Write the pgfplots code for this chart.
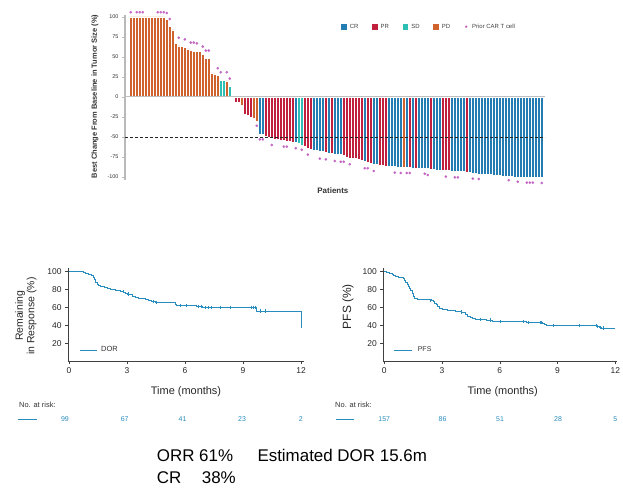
\documentclass[border=0pt]{standalone}
\usepackage{fontspec}
\setmainfont{Liberation Sans}
\usepackage{pgfplots}
\pgfplotsset{compat=1.18}
\definecolor{cCR}{RGB}{35,125,178}
\definecolor{cPR}{RGB}{192,32,62}
\definecolor{cSD}{RGB}{45,190,180}
\definecolor{cPD}{RGB}{208,98,45}
\definecolor{cMark}{RGB}{195,100,195}
\definecolor{km}{RGB}{40,140,190}
\begin{document}
\begin{tikzpicture}[x=1bp,y=1bp]
\useasboundingbox (0,0) rectangle (623,489);
% ---------------- waterfall ----------------
\begin{axis}[
 at={(125bp,309bp)}, anchor=south west, scale only axis, width=420bp, height=165bp,
 xmin=-1.93, xmax=138.07, ymin=-103.75, ymax=102.5,
 clip=false,
 axis y line*=left, axis x line*=bottom, x axis line style={draw=none},
 xtick=\empty,
 ytick={-100,-75,-50,-25,0,25,50,75,100},
 yticklabels={-100,-75,-50,-25,0,25,50,75,100},
 yticklabel style={font=\fontsize{5.5}{6}\selectfont, text=black!80},
 y axis line style={gray!55, line width=1.2bp},
 ytick style={gray!55, line width=0.6bp}, tick align=outside, major tick length=3bp,
 ylabel={Best Change From Baseline in Tumor Size (\%)},
 ylabel style={at={(axis description cs:-0.0714,0.506)}, anchor=center, font=\bfseries\fontsize{7.5}{8}\selectfont, text=black!80},
 xlabel={Patients},
 xlabel style={at={(axis description cs:0.495,-0.0667)}, anchor=center, font=\bfseries\fontsize{8}{9}\selectfont, text=black!80},
 legend style={at={(axis description cs:0.514,0.929)}, anchor=west, draw=none, fill=none, inner sep=0pt,
   font=\fontsize{6}{7}\selectfont, text=black!75, nodes={inner sep=0pt},
   /tikz/every odd column/.append style={column sep=3.5bp},
   /tikz/every even column/.append style={column sep=13.6bp}},
 legend columns=-1,
]
\addlegendimage{legend image code/.code={\fill[cCR] (0bp,-2.4bp) rectangle (4.8bp,2.4bp);}}
\addlegendentry{CR}
\addlegendimage{legend image code/.code={\fill[cPR] (0bp,-2.4bp) rectangle (4.8bp,2.4bp);}}
\addlegendentry{PR}
\addlegendimage{legend image code/.code={\fill[cSD] (0bp,-2.4bp) rectangle (4.8bp,2.4bp);}}
\addlegendentry{SD}
\addlegendimage{legend image code/.code={\fill[cPD] (0bp,-2.4bp) rectangle (4.8bp,2.4bp);}}
\addlegendentry{PD}
\addlegendimage{legend image code/.code={\fill[white, draw=none] (0bp,-2.4bp) rectangle (4.8bp,2.4bp); \fill[cMark, draw=none] (2.4bp,0bp) circle (1.3bp);}}
\addlegendentry{Prior CAR T cell}

\addplot[ybar, bar width=1, bar shift=0pt, fill=cPD, draw=white, line width=0.35bp, forget plot] coordinates {
(0,100)(1,100)(2,100)(3,100)(4,100)(5,100)(6,100)(7,100)(8,100)(9,100)(10,100)(11,100)
(12,97)(13,88)(14,84)(15,67)(16,64)(17,63)(18,62)(19,60)(20,58)(21,57)(22,57)(23,57)
(24,53)(25,48)(26,48)(27,30)(28,29)(29,27)(32,20)(37,-10)(41,-26)(42,-30)(91,-88)};
\addplot[ybar, bar width=1, bar shift=0pt, fill=cSD, draw=white, line width=0.35bp, forget plot] coordinates {
(30,21)(31,21)(33,13)(56,-58)(57,-60)};
\addplot[ybar, bar width=1, bar shift=0pt, fill=cPR, draw=white, line width=0.35bp, forget plot] coordinates {
(35,-6)(36,-6)(38,-21)(39,-23)(40,-25)(45,-49)(46,-50)(47,-52)(48,-53)(49,-53)(50,-54)(51,-54)
(52,-55)(53,-55)(54,-56)(58,-62)(59,-64)(60,-65)(65,-69)(67,-70)(71,-73)(72,-75)(73,-76)(74,-77)
(75,-77)(76,-78)(77,-79)(79,-81)(80,-83)(83,-85)(84,-85)(85,-86)(93,-88)(95,-89)(100,-90)
(104,-92)(105,-92)(106,-92)(112,-94)};
\addplot[ybar, bar width=1, bar shift=0pt, fill=cCR, draw=white, line width=0.35bp, forget plot] coordinates {
(43,-47)(44,-47)(55,-57)(61,-66)(62,-67)(63,-68)(64,-68)(66,-70)(68,-71)(69,-71)(70,-72)(78,-80)
(81,-84)(82,-84)(86,-86)(87,-87)(88,-87)(89,-88)(90,-88)(92,-88)(94,-89)(96,-89)(97,-89)(98,-89)
(99,-89)(101,-90)(102,-91)(103,-91)(107,-93)(108,-93)(109,-93)(110,-93)(111,-93)(113,-94)(114,-95)
(115,-95)(116,-96)(117,-96)(118,-97)(119,-97)(120,-97)(121,-98)(122,-98)(123,-98)(124,-99)(125,-99)
(126,-99)(127,-99)(128,-100)(129,-100)(130,-100)(131,-100)(132,-100)(133,-100)(134,-100)(135,-100)
(136,-100)(137,-100)};
\addplot[only marks, mark=*, mark size=1.1bp, cMark, forget plot] coordinates {
(0,106)(2,106)(3,106)(4,106)(9,106)(10,106)(11,106)(12,105)(13,97.5)
(16,74)(18,72)(20,68)(21,68)(22,67)(24,63)(25,58)(26,58)(29,36)(30,31)(32,31)(33,23)
(42,-36)(43,-53)(44,-53)(47,-60)(51,-62)(52,-62)(55,-64)(57,-66)(59,-72)(63,-77)(65,-78)
(68,-80)(70,-81)(71,-81)(73,-84)(78,-89)(79,-89)(81,-92.5)(88,-94.5)(90,-95)(92,-95)(93,-95)
(98,-96)(99,-97.5)(105,-99.5)(108,-100.5)(109,-100.5)(114,-102)(116,-102.5)(126,-104)(129,-106)
(132,-107)(133,-107)(134,-107)(137,-107.5)};
\draw[gray!50, line width=1bp] (axis cs:-1.93,0) -- (axis cs:138.07,0);
\draw[black!85, line width=0.8bp, dash pattern=on 3bp off 2bp] (axis cs:-1.93,-50) -- (axis cs:138.07,-50);
\end{axis}

% ---------------- DOR ----------------
\begin{axis}[
 at={(68bp,127.8bp)}, anchor=south west, scale only axis, width=236.3bp, height=93.2bp,
 xmin=-0.05, xmax=12.17, ymin=0, ymax=104.1,
 axis x line*=bottom, axis y line*=left,
 axis line style={black!75, line width=0.8bp},
 xtick={0,3,6,9,12}, ytick={20,40,60,80,100},
 tick align=outside, major tick length=3bp, tick style={black!75, line width=0.6bp},
 ticklabel style={font=\fontsize{8.5}{9}\selectfont, text=black!85},
 /pgf/number format/assume math mode=true,
 xlabel={Time (months)},
 xlabel style={at={(axis description cs:0.4994,-0.33)}, anchor=center, font=\fontsize{11}{12}\selectfont, text=black!85},
 ylabel={Remaining\\in Response (\%)},
 ylabel style={at={(axis description cs:-0.178,0.485)}, anchor=center, align=center, font=\fontsize{10.5}{11.7}\selectfont, text=black!85},
 legend style={at={(axis description cs:0.0466,0.12)}, anchor=west, draw=none, fill=none, inner sep=0pt,
   font=\fontsize{7.5}{8}\selectfont, text=black!80, nodes={inner sep=0pt},
   /tikz/every odd column/.append style={column sep=3.3bp}},
 legend image code/.code={\draw[km, line width=0.9bp] (0bp,0bp) -- (17.7bp,0bp);},
]
\addplot[const plot, km, line width=0.9bp] coordinates {
(0,100)(0.75,99)(0.85,98)(1.0,97)(1.15,96)(1.25,94)(1.32,91)(1.38,88)(1.45,86)(1.55,85)(1.65,84)
(1.75,83)(1.85,82)(2.0,81)(2.15,80)(2.4,79)(2.65,78)(2.8,77)(2.9,76)(3.05,75)(3.15,74)(3.3,72)
(3.45,71)(3.6,70)(3.95,69)(4.1,68)(4.25,67)(4.45,66)(5.5,63)(5.55,62)(6.6,61)(6.9,60)(9.7,56)
(12,37)(12,37)};
\addlegendentry{DOR}
\addplot[only marks, mark=|, mark size=1.6bp, km, line width=0.6bp, forget plot] coordinates {
(2.81,78)(3.07,75)(4.36,67)(4.54,66)(5.74,62)(6.09,62)(6.69,61)(6.86,61)(7.03,60)(7.2,60)(7.38,60)
(7.8,60)(8.33,60)(9.45,60)(9.53,60)(9.62,60)(9.88,56)(10.14,56)};
\end{axis}

% ---------------- PFS ----------------
\begin{axis}[
 at={(383.3bp,127.8bp)}, anchor=south west, scale only axis, width=233.4bp, height=93.2bp,
 xmin=-0.05, xmax=12.07, ymin=0, ymax=104.1,
 axis x line*=bottom, axis y line*=left,
 axis line style={black!75, line width=0.8bp},
 xtick={0,3,6,9,12}, ytick={20,40,60,80,100},
 tick align=outside, major tick length=3bp, tick style={black!75, line width=0.6bp},
 ticklabel style={font=\fontsize{8.5}{9}\selectfont, text=black!85},
 /pgf/number format/assume math mode=true,
 xlabel={Time (months)},
 xlabel style={at={(axis description cs:0.5116,-0.33)}, anchor=center, font=\fontsize{11}{12}\selectfont, text=black!85},
 ylabel={PFS (\%)},
 ylabel style={at={(axis description cs:-0.151,0.585)}, anchor=center, font=\fontsize{12}{13}\selectfont, text=black!85},
 legend style={at={(axis description cs:0.043,0.12)}, anchor=west, draw=none, fill=none, inner sep=0pt,
   font=\fontsize{7}{8}\selectfont, text=black!80, nodes={inner sep=0pt},
   /tikz/every odd column/.append style={column sep=5bp}},
 legend image code/.code={\draw[km, line width=0.9bp] (0bp,0bp) -- (18.4bp,0bp);},
]
\addplot[const plot, km, line width=0.9bp] coordinates {
(0,100)(0.1,99)(0.25,98)(0.4,97)(0.5,96)(0.6,95)(0.75,94)(0.9,93)(1.0,92)(1.05,90)(1.12,88)(1.2,86)
(1.25,83)(1.3,81)(1.38,79)(1.45,76)(1.5,72)(1.55,70)(1.7,69)(2.45,68)(2.55,67)(2.62,65)(2.7,63)
(2.78,61)(2.85,59)(3.0,58)(3.3,57)(3.7,56)(4.0,55)(4.1,54)(4.2,52)(4.3,50)(4.45,49)(4.6,48)(4.75,47)
(5.3,46)(5.5,45)(5.6,44)(7.4,43)(8.2,42)(8.3,41)(8.4,40)(11.05,39)(11.15,38)(11.3,37)(12,37)};
\addlegendentry{PFS}
\addplot[only marks, mark=|, mark size=1.6bp, km, line width=0.6bp, forget plot] coordinates {
(2.37,68)(4.02,55)(4.97,47)(5.49,46)(6.0,44)(7.23,44)(7.5,43)(8.1,43)(8.15,43)(8.78,40)(10.13,40)
(11.0,40)(11.07,39)(11.2,38)(11.35,37)};
\end{axis}

% ---------------- at-risk tables ----------------
\node[anchor=west, inner sep=0pt, font=\fontsize{7.5}{8}\selectfont, text=black!80] at (19,84) {No. at risk:};
\draw[km, line width=0.9bp] (18.3,69.7) -- (36.7,69.7);
\foreach \xx/\nn in {65/99,124.7/67,182.5/41,242/23,300.7/2}
  \node[inner sep=0pt, font=\fontsize{7}{8}\selectfont, text=km] at (\xx,70.3) {\nn};
\node[anchor=west, inner sep=0pt, font=\fontsize{7.5}{8}\selectfont, text=black!80] at (335,84) {No. at risk:};
\draw[km, line width=0.9bp] (336,69.7) -- (354,69.7);
\foreach \xx/\nn in {384.2/157,442.5/86,500/51,558/28,615.3/5}
  \node[inner sep=0pt, font=\fontsize{7}{8}\selectfont, text=km] at (\xx,70.3) {\nn};

% ---------------- summary text ----------------
\node[anchor=base west, inner sep=0pt, font=\fontsize{17}{18}\selectfont] at (156.7,27.3) {ORR 61\%};
\node[anchor=base west, inner sep=0pt, font=\fontsize{17}{18}\selectfont] at (257.3,27.3) {Estimated DOR 15.6m};
\node[anchor=base west, inner sep=0pt, font=\fontsize{17}{18}\selectfont] at (156.7,5.7) {CR};
\node[anchor=base west, inner sep=0pt, font=\fontsize{17}{18}\selectfont] at (201.7,5.7) {38\%};
\end{tikzpicture}
\end{document}
